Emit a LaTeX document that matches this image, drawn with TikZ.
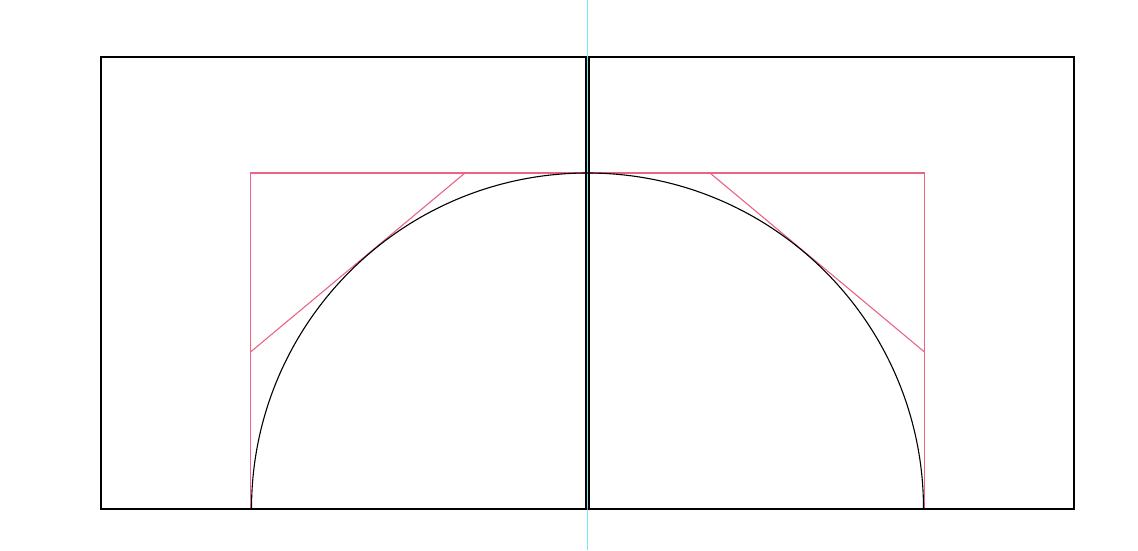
\documentclass[tikz,border=0pt]{standalone}
\definecolor{pinkline}{RGB}{236,100,132}
\definecolor{guide}{RGB}{120,235,240}
\tikzset{
  frame/.style={draw=black,line width=1.3pt},
  helper/.style={draw=pinkline,line width=1.1pt},
  arcline/.style={draw=black,line width=1.1pt},
  guideline/.style={draw=guide,line width=0.5pt}
}
\begin{document}
\begin{tikzpicture}[x=1pt,y=1pt]
\useasboundingbox (0,0) rectangle (1138,550);
\fill[white] (0,0) rectangle (1138,550);
% guide line
\coordinate (gt) at (587.5,550);
\coordinate (gb) at (587.5,0);
\draw[guideline] (gb) -- (gt);
% pink construction
\draw[helper] (250.5,41) rectangle (924.5,377);
\coordinate (lA) at (250.5,198);
\coordinate (lB) at (465,377);
\coordinate (rA) at (710,377);
\coordinate (rB) at (924.5,198);
\draw[helper] (lA) -- (lB);
\draw[helper] (rA) -- (rB);
% semicircle
\coordinate (c) at (587.5,41);
\draw[arcline] (251.5,41) arc[start angle=180,end angle=0,radius=336];
% frames
\draw[frame] (101,41) rectangle (586,493);
\draw[frame] (589,41) rectangle (1074,493);
\end{tikzpicture}
\end{document}
